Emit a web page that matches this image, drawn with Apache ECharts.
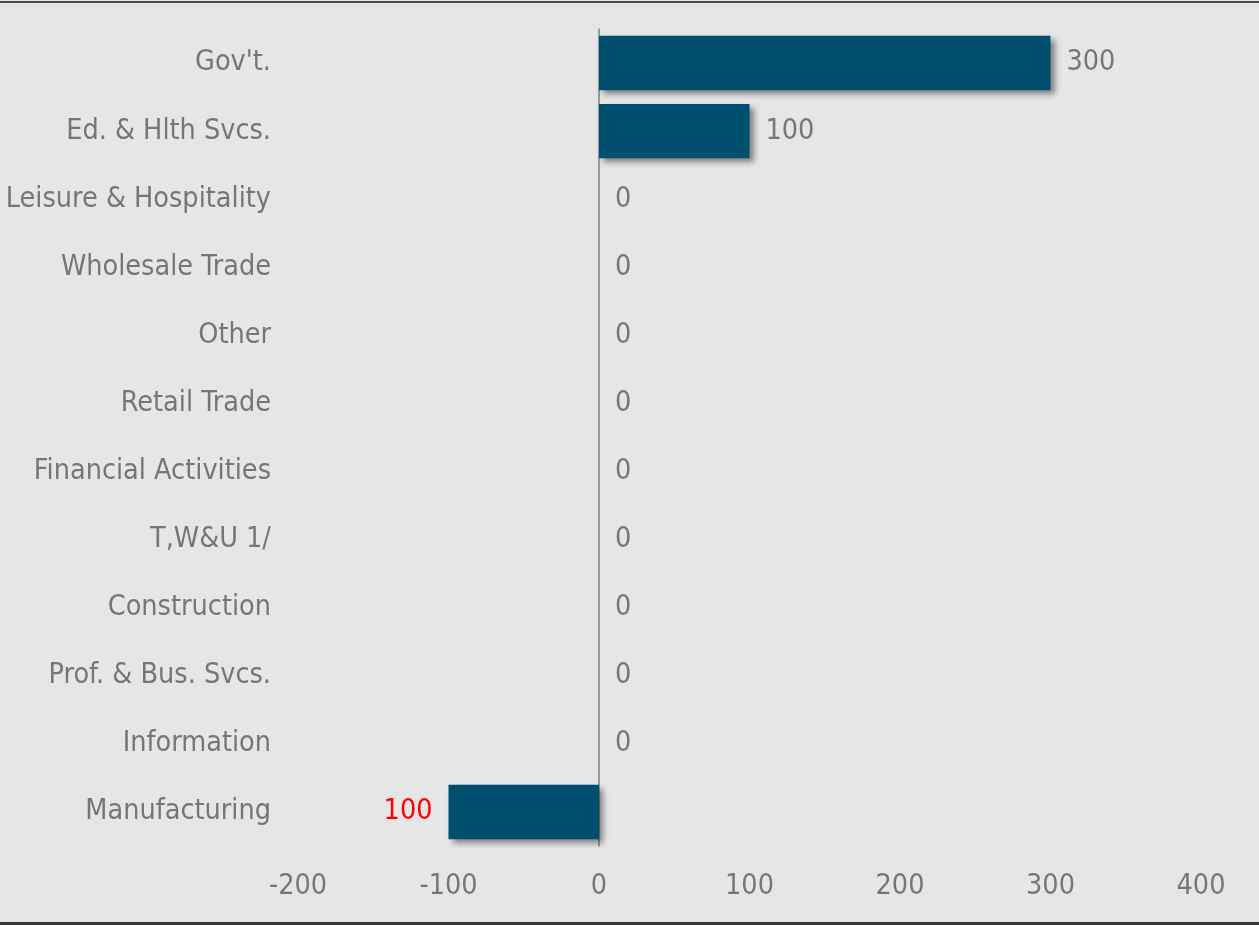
<!DOCTYPE html>
<html>
<head>
<meta charset="utf-8">
<script src="https://cdn.jsdelivr.net/npm/echarts@6/dist/echarts.min.js"></script>
<style>
  html, body { margin: 0; padding: 0; background: #e6e6e6; }
  #chart { width: 1259px; height: 925px; }
</style>
</head>
<body>
<div id="chart"></div>
<script>
// Employment change by industry (thousands of jobs)
const categories = [
  "Gov't.", "Ed. & Hlth Svcs.", "Leisure & Hospitality", "Wholesale Trade",
  "Other", "Retail Trade", "Financial Activities", "T,W&U 1/",
  "Construction", "Prof. & Bus. Svcs.", "Information", "Manufacturing"
];
const changes = [300, 100, 0, 0, 0, 0, 0, 0, 0, 0, 0, -100];
const xTicks = { min: -200, max: 400, interval: 100 };

const FONT = "'DejaVu Sans Condensed', 'Liberation Sans', sans-serif";
const FS = 28.5;
const TEXT = '#767676';
const BAR = '#004f6e';

const chart = echarts.init(document.getElementById('chart'));

const barData = changes.map(v => ({
  value: v,
  label: {
    position: v < 0 ? 'left' : 'right',
    color: v < 0 ? '#ff0000' : TEXT
  }
}));

chart.setOption({
  backgroundColor: '#e6e6e6',
  animation: false,
  grid: { left: 298, right: 58, top: 29, bottom: 79, containLabel: false },
  xAxis: {
    type: 'value',
    min: xTicks.min,
    max: xTicks.max,
    interval: xTicks.interval,
    axisLine: { show: false },
    axisTick: { show: false },
    splitLine: { show: false },
    axisLabel: { color: TEXT, fontSize: FS, fontFamily: FONT, margin: 26 }
  },
  yAxis: {
    type: 'category',
    data: categories,
    inverse: true,
    axisLine: { show: true, onZero: true, lineStyle: { color: '#808080', width: 1.5 } },
    axisTick: { show: false },
    axisLabel: { color: TEXT, fontSize: FS, fontFamily: FONT, margin: 27, padding: [8, 0, 0, 0] }
  },
  series: [{
    type: 'bar',
    data: barData,
    barCategoryGap: '20%',
    itemStyle: {
      color: BAR,
      shadowColor: 'rgba(0,0,0,0.45)',
      shadowBlur: 6,
      shadowOffsetX: 4,
      shadowOffsetY: 4
    },
    label: {
      show: true,
      distance: 16,
      fontSize: FS,
      fontFamily: FONT,
      padding: [8, 0, 0, 0],
      formatter: p => String(Math.abs(p.value))
    }
  }],
  graphic: [
    { type: 'rect', shape: { x: 0, y: 1, width: 1259, height: 2 }, style: { fill: '#4a4a4a' }, silent: true },
    { type: 'rect', shape: { x: 0, y: 922, width: 1259, height: 3 }, style: { fill: '#3a3a3a' }, silent: true }
  ]
});
</script>
</body>
</html>
